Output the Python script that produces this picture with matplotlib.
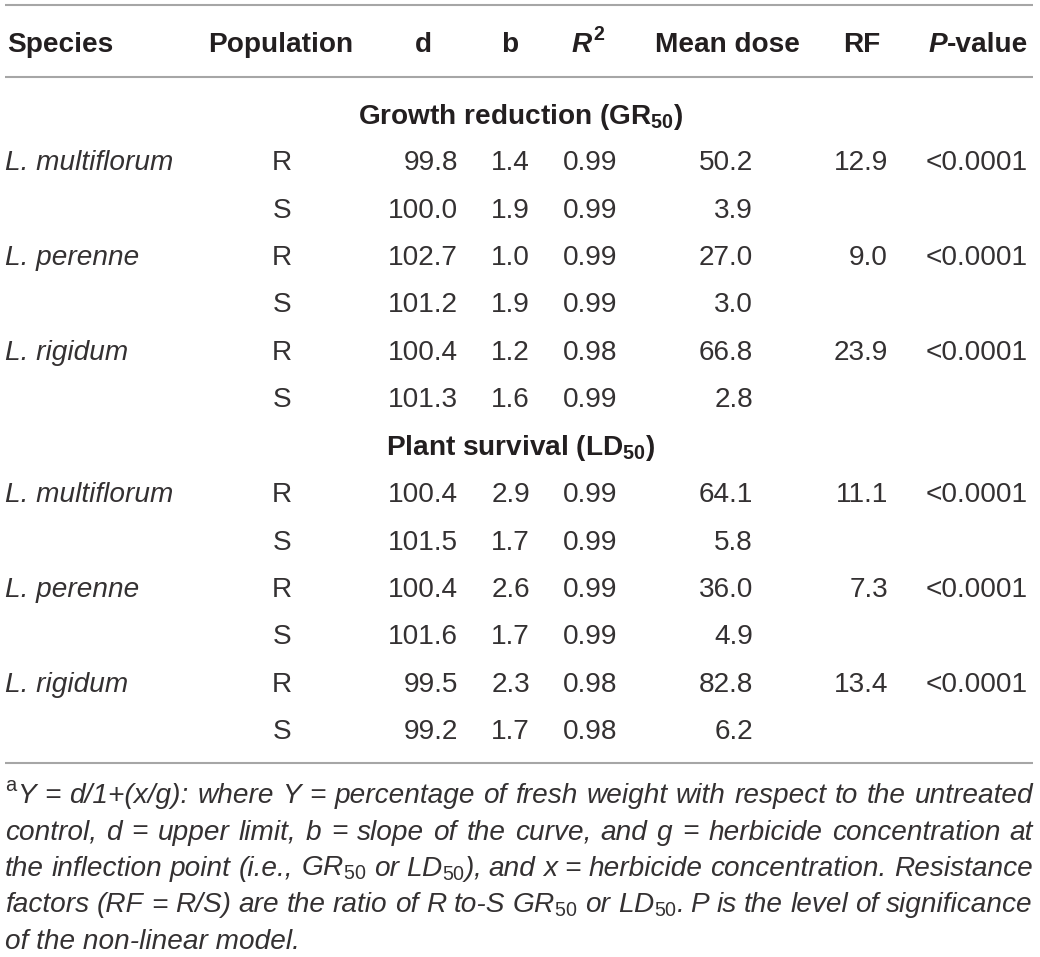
import matplotlib
matplotlib.use("Agg")
import matplotlib.pyplot as plt

# Table content
headers = ["Species", "Population", "d", "b", "R2", "Mean dose", "RF", "P-value"]
species = ["L. multiflorum", "L. perenne", "L. rigidum"]
populations = ["R", "S"]
groups = [r"Growth reduction (GR$_{\mathbf{50}}$)", r"Plant survival (LD$_{\mathbf{50}}$)"]

gr_d = [99.8, 100.0, 102.7, 101.2, 100.4, 101.3]
gr_b = [1.4, 1.9, 1.0, 1.9, 1.2, 1.6]
gr_r2 = [0.99, 0.99, 0.99, 0.99, 0.98, 0.99]
gr_dose = [50.2, 3.9, 27.0, 3.0, 66.8, 2.8]
gr_rf = [12.9, 9.0, 23.9]
gr_p = ["<0.0001", "<0.0001", "<0.0001"]

ld_d = [100.4, 101.5, 100.4, 101.6, 99.5, 99.2]
ld_b = [2.9, 1.7, 2.6, 1.7, 2.3, 1.7]
ld_r2 = [0.99, 0.99, 0.99, 0.99, 0.98, 0.98]
ld_dose = [64.1, 5.8, 36.0, 4.9, 82.8, 6.2]
ld_rf = [11.1, 7.3, 13.4]
ld_p = ["<0.0001", "<0.0001", "<0.0001"]

footnote = [
    r"Y = d/1+(x/g): where Y = percentage of fresh weight with respect to the untreated",
    r"control, d = upper limit, b = slope of the curve, and g = herbicide concentration at",
    r"the inflection point (i.e., GR$_{\mathrm{50}}$ or LD$_{\mathrm{50}}$), and x = herbicide concentration. Resistance",
    r"factors (RF = R/S) are the ratio of R to-S GR$_{\mathrm{50}}$ or LD$_{\mathrm{50}}$. P is the level of significance",
    r"of the non-linear model.",
]

plt.rcParams["font.family"] = ["Liberation Sans", "DejaVu Sans"]
plt.rcParams["mathtext.fontset"] = "custom"
plt.rcParams["mathtext.rm"] = "Liberation Sans"
plt.rcParams["mathtext.it"] = "Liberation Sans:italic"
plt.rcParams["mathtext.bf"] = "Liberation Sans:bold"

ink = "#231f20"
soft = "#343132"   # body text is a light face in the original
rule = "#a6a6a6"
fs = 20.2
fpx = fs * 100 / 72.0

fig = plt.figure(figsize=(10.4, 9.57), dpi=100)
ax = fig.add_axes([0, 0, 1, 1])
ax.set_xlim(0, 1040)
ax.set_ylim(957, 0)
ax.axis("off")
renderer = fig.canvas.get_renderer()


def base(yc):
    # cap-centre to baseline
    return yc + 0.36 * fpx


def put(x, yc, s, ha="left", **kw):
    kw.setdefault("color", soft)
    kw.setdefault("fontsize", fs)
    return ax.text(x, base(yc), s, ha=ha, va="baseline", **kw)


def head(x, yc, s, ha="left", **kw):
    return put(x, yc, s, ha=ha, fontweight="bold", color=ink, **kw)


# rules
for y in [5, 77, 763]:
    ax.hlines(y, 5, 1033, color=rule, lw=1.5)

# header row
hy = 42
head(7, hy, "Species")
head(281, hy, "Population", ha="center")
head(423, hy, "d", ha="center")
head(510, hy, "b", ha="center")
tr = head(572, hy, "R", style="italic")
rw = tr.get_window_extent(renderer).width
ax.text(572 + rw + 1, base(hy) - 0.42 * fpx, "2", ha="left", va="baseline",
        fontsize=fs * 0.7, fontweight="bold", color=ink)
head(727, hy, "Mean dose", ha="center")
head(862, hy, "RF", ha="center")
tv = head(1028, hy, "-value", ha="right")
vw = tv.get_window_extent(renderer).width
head(1028 - vw, hy, "P", ha="right", style="italic")

# body
blocks = [
    (gr_d, gr_b, gr_r2, gr_dose, gr_rf, gr_p),
    (ld_d, ld_b, ld_r2, ld_dose, ld_rf, ld_p),
]
step = 47.45
for g, (d, b, r2, dose, rf, p) in enumerate(blocks):
    gy = 114 if g == 0 else 444.5
    head(521, gy, groups[g], ha="center")
    y0 = 160 if g == 0 else 492
    for i in range(6):
        yc = y0 + step * i
        if i % 2 == 0:
            put(5, yc, species[i // 2], style="italic")
            put(1028, yc, p[i // 2], ha="right")
            put(888, yc, f"{rf[i // 2]:.1f}", ha="right")
        put(282, yc, populations[i % 2], ha="center")
        put(458, yc, f"{d[i]:.1f}", ha="right")
        put(530, yc, f"{b[i]:.1f}", ha="right")
        put(617, yc, f"{r2[i]:.2f}", ha="right")
        put(753, yc, f"{dose[i]:.1f}", ha="right")

# footnote, justified
left, right = 5, 1033
sup = ax.text(left, 803 - 0.42 * fpx, "a", ha="left", va="baseline",
              fontsize=fs * 0.72, color=soft)
sup_w = sup.get_window_extent(renderer).width
for k, line in enumerate(footnote):
    yb = 803 + 36.5 * k
    x0 = left + sup_w + 1 if k == 0 else left
    words = line.split(" ")
    if k == len(footnote) - 1:
        ax.text(x0, yb, line, ha="left", va="baseline", fontsize=fs,
                style="italic", color=soft)
        continue
    arts = [ax.text(0, yb, w, ha="left", va="baseline", fontsize=fs,
                    style="italic", color=soft) for w in words]
    widths = [a.get_window_extent(renderer).width for a in arts]
    gap = (right - x0 - sum(widths)) / (len(words) - 1)
    x = x0
    for a, w in zip(arts, widths):
        a.set_x(x)
        x += w + gap

fig.savefig("out.png", dpi=100, facecolor="white")
